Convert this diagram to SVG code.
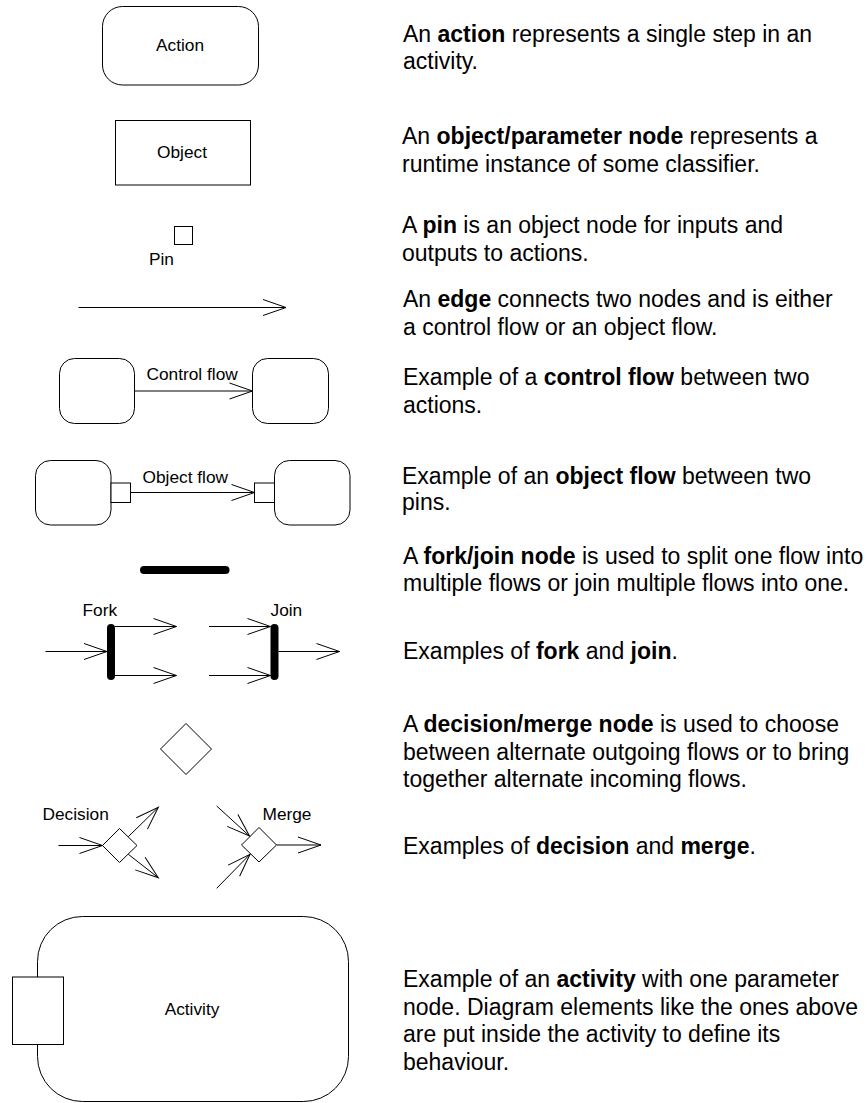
<svg xmlns="http://www.w3.org/2000/svg" width="867" height="1103" viewBox="0 0 867 1103">
  <defs>
    <style>
      .shape { fill: #fff; stroke: #000; stroke-width: 1; }
      .edge { fill: none; stroke: #000; stroke-width: 1; marker-end: url(#open); }
      .bar { fill: none; stroke: #000; stroke-width: 8; stroke-linecap: round; }
      .lbl { font-family: "Liberation Sans", Arial, sans-serif; font-size: 17.3px; fill: #000; }
      .mid { text-anchor: middle; }
      .desc { font-family: "Liberation Sans", Arial, sans-serif; font-size: 23px; fill: #000; }
      .b { font-weight: bold; }
    </style>
    <!-- open V arrowhead, sized in user units -->
    <marker id="open" viewBox="-25 -10 27 20" markerWidth="27" markerHeight="20" refX="0" refY="0" orient="auto" markerUnits="userSpaceOnUse">
      <path d="M-23,-8 L0,0 L-23,8" fill="none" stroke="#000" stroke-width="1"/>
    </marker>
  </defs>

  <rect width="867" height="1103" fill="#fff"/>

  <!-- legend symbols -->
  <g id="action">
    <rect class="shape" x="102.5" y="6.5" width="156" height="78.5" rx="20" ry="20"/>
    <text class="lbl mid" x="180" y="51">Action</text>
  </g>

  <g id="object">
    <rect class="shape" x="115.5" y="120.5" width="135" height="64.5"/>
    <text class="lbl mid" x="182" y="157.5">Object</text>
  </g>

  <g id="pin">
    <rect class="shape" x="174.5" y="226.5" width="18" height="18"/>
    <text class="lbl" x="149" y="265">Pin</text>
  </g>

  <g id="control-flow-source">
    <rect class="shape" x="59.5" y="358.5" width="75" height="65" rx="15" ry="15"/>
  </g>
  <g id="control-flow-target">
    <rect class="shape" x="252.5" y="358.5" width="76" height="65" rx="15" ry="15"/>
  </g>

  <g id="object-flow-source">
    <rect class="shape" x="35.5" y="460.5" width="75.5" height="64.5" rx="15" ry="15"/>
    <rect class="shape" x="111" y="483" width="19.5" height="19.5"/>
  </g>
  <g id="object-flow-target">
    <rect class="shape" x="274.5" y="460.5" width="75.5" height="64.5" rx="15" ry="15"/>
    <rect class="shape" x="254.5" y="483" width="20" height="19.5"/>
  </g>

  <g id="fork-join-node">
    <line class="bar" x1="144" y1="570" x2="225.5" y2="570"/>
  </g>

  <g id="fork">
    <line class="bar" x1="111" y1="628" x2="111" y2="676"/>
    <text class="lbl" x="82.5" y="615.5">Fork</text>
  </g>

  <g id="join">
    <line class="bar" x1="274.5" y1="628" x2="274.5" y2="676"/>
    <text class="lbl" x="270.5" y="615.5">Join</text>
  </g>

  <g id="decision-merge-node">
    <polygon class="shape" points="186,723.5 211.5,749 186,774.5 160.5,749"/>
  </g>

  <g id="decision">
    <polygon class="shape" points="119.5,828.5 137,845.5 119.5,862.5 102.5,845.5"/>
    <text class="lbl" x="42.5" y="819.5">Decision</text>
  </g>

  <g id="merge">
    <polygon class="shape" points="259,827.5 276.5,845 259,862 241.5,845"/>
    <text class="lbl" x="262.5" y="819.5">Merge</text>
  </g>

  <g id="activity">
    <rect class="shape" x="37.5" y="916.5" width="311" height="185" rx="45" ry="45"/>
    <rect class="shape" x="12.5" y="977" width="51" height="67.5"/>
    <text class="lbl mid" x="192" y="1015">Activity</text>
  </g>

  <!-- connectors -->
  <g id="connectors">
    <line class="edge" x1="78.5" y1="307.5" x2="286" y2="307.5"/>

    <line class="edge" x1="134.5" y1="391" x2="252.5" y2="391"/>
    <text class="lbl" x="146.5" y="379.5">Control flow</text>

    <line class="edge" x1="130.5" y1="492.5" x2="254.5" y2="492.5"/>
    <text class="lbl" x="142.5" y="482.5">Object flow</text>

    <!-- fork -->
    <line class="edge" x1="45.5" y1="651.5" x2="107" y2="651.5"/>
    <line class="edge" x1="115" y1="626.5" x2="176.5" y2="626.5"/>
    <line class="edge" x1="115" y1="675.5" x2="176.5" y2="675.5"/>

    <!-- join -->
    <line class="edge" x1="209" y1="626.5" x2="270.5" y2="626.5"/>
    <line class="edge" x1="209" y1="675.5" x2="270.5" y2="675.5"/>
    <line class="edge" x1="278.5" y1="651.5" x2="339.5" y2="651.5"/>

    <!-- decision -->
    <line class="edge" x1="58.5" y1="845.5" x2="102.5" y2="845.5"/>
    <line class="edge" x1="128.3" y1="836.7" x2="158.3" y2="807.3"/>
    <line class="edge" x1="128.3" y1="854.3" x2="158.3" y2="877.7"/>

    <!-- merge -->
    <line class="edge" x1="216.7" y1="806" x2="249.5" y2="836"/>
    <line class="edge" x1="216.7" y1="888.3" x2="250" y2="854.3"/>
    <line class="edge" x1="276.5" y1="845" x2="321" y2="845"/>
  </g>

  <!-- descriptions -->
  <g id="descriptions">
    <text class="desc" x="403" y="42">An <tspan class="b">action</tspan> represents a single step in an</text>
    <text class="desc" x="403" y="68.5">activity.</text>

    <text class="desc" x="402" y="143.5">An <tspan class="b">object/parameter node</tspan> represents a</text>
    <text class="desc" x="402" y="171.5">runtime instance of some classifier.</text>

    <text class="desc" x="402" y="233">A <tspan class="b">pin</tspan> is an object node for inputs and</text>
    <text class="desc" x="402" y="260.5">outputs to actions.</text>

    <text class="desc" x="403" y="306.5">An <tspan class="b">edge</tspan> connects two nodes and is either</text>
    <text class="desc" x="403" y="334.5">a control flow or an object flow.</text>

    <text class="desc" x="403" y="385">Example of a <tspan class="b">control flow</tspan> between two</text>
    <text class="desc" x="403" y="412.5">actions.</text>

    <text class="desc" x="402" y="483.5">Example of an <tspan class="b">object flow</tspan> between two</text>
    <text class="desc" x="402" y="510">pins.</text>

    <text class="desc" x="403" y="563.5">A <tspan class="b">fork/join node</tspan> is used to split one flow into</text>
    <text class="desc" x="403" y="591">multiple flows or join multiple flows into one.</text>

    <text class="desc" x="403" y="658.5">Examples of <tspan class="b">fork</tspan> and <tspan class="b">join</tspan>.</text>

    <text class="desc" x="403" y="731.5">A <tspan class="b">decision/merge node</tspan> is used to choose</text>
    <text class="desc" x="403" y="759.5">between alternate outgoing flows or to bring</text>
    <text class="desc" x="403" y="786.5">together alternate incoming flows.</text>

    <text class="desc" x="403" y="853.5">Examples of <tspan class="b">decision</tspan> and <tspan class="b">merge</tspan>.</text>

    <text class="desc" x="403" y="986.5">Example of an <tspan class="b">activity</tspan> with one parameter</text>
    <text class="desc" x="403" y="1014.5">node. Diagram elements like the ones above</text>
    <text class="desc" x="403" y="1041.5">are put inside the activity to define its</text>
    <text class="desc" x="403" y="1069.5">behaviour.</text>
  </g>
</svg>
